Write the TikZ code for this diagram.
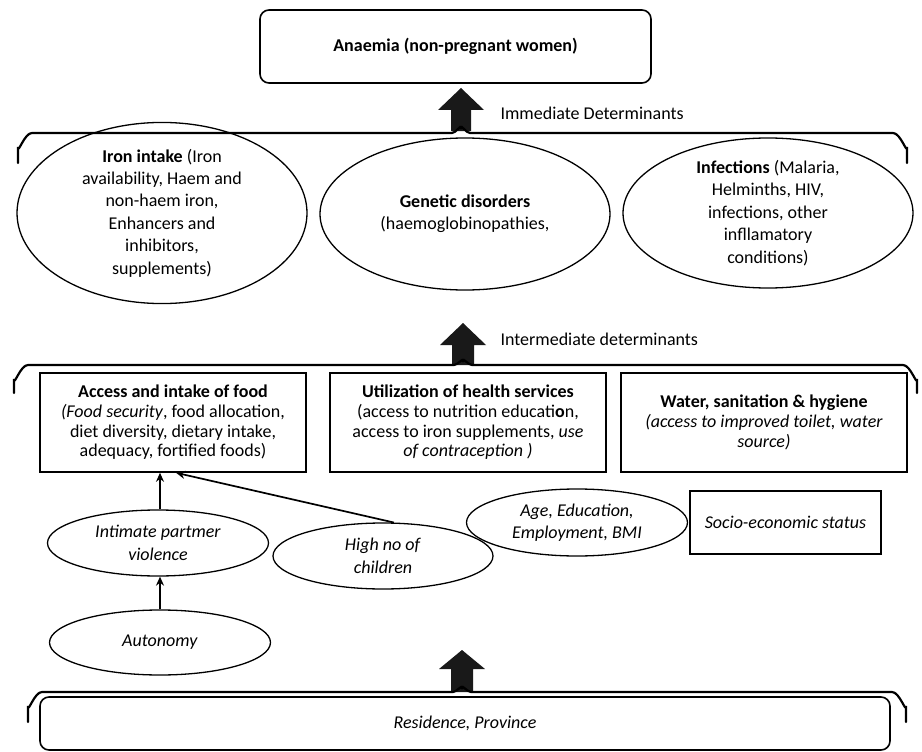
\documentclass[tikz,border=0pt]{standalone}
\usepackage{fontspec}
\setmainfont{Carlito}
\usepackage{tikz}
\usetikzlibrary{shapes,arrows,arrows.meta,chains}
\tikzstyle{arrow} = [line width=1.7pt,->,>={Stealth[length=9pt,width=8pt]}]
\tikzstyle{brace} = [line width=2.2pt,line cap=round]
\tikzstyle{bigarrow} = [fill=black!90]
\tikzstyle{oval} = [ellipse, draw=black, line width=1.3pt, inner sep=0pt, align=center, font=\fontsize{18}{22.4}\selectfont]
\tikzstyle{box} = [rectangle, draw=black, line width=1.6pt, inner sep=0pt, align=center, font=\fontsize{18}{19.6}\selectfont]

\begin{document}
\begin{tikzpicture}[x=1pt, y=-1pt, font=\fontsize{18}{22}\selectfont]
        \useasboundingbox (0,0) rectangle (922,752);

        % outcome
        \node (anaemia) [box, rounded corners=9pt, minimum width=391pt, minimum height=73pt] at (455.5,46.5) {\textbf{Anaemia (non-pregnant women)}};

        % immediate determinants
        \fill[bigarrow, shift={(461,131)}] (-10,0) -- (-10,-21) -- (-23,-21) -- (0,-43) -- (23,-21) -- (10,-21) -- (10,0) -- cycle;
        \node (immt) [anchor=west] at (497,113) {Immediate Determinants};
        \draw[brace] (18,163) -- (18,147) to[out=-90,in=180] (32,133) -- (452,133) to[out=0,in=90] (461,128) to[out=90,in=180] (470,133) -- (893,133) to[out=0,in=-90] (907,147) -- (907,163);

        \node (iron) [oval, minimum width=290pt, minimum height=150pt] at (162,213) {\textbf{Iron intake} (Iron\\availability, Haem and\\non-haem iron,\\Enhancers and\\inhibitors,\\supplements)};
        \node (genetic) [oval, minimum width=290pt, minimum height=152pt] at (465,214) {\textbf{Genetic disorders}\\(haemoglobinopathies,};
        \node (infect) [oval, minimum width=290pt, minimum height=150pt] at (768,213) {\textbf{Infections} (Malaria,\\Helminths, HIV,\\infections, other\\infllamatory\\conditions)};

        % intermediate determinants
        \fill[bigarrow, shift={(463,365)}] (-11,0) -- (-11,-20) -- (-23,-20) -- (0,-42) -- (23,-20) -- (11,-20) -- (11,0) -- cycle;
        \node (intt) [anchor=west] at (497,339) {Intermediate determinants};
        \draw[brace] (14,393) -- (14,379) to[out=-90,in=180] (28,365) -- (454,365) to[out=0,in=90] (463,361) to[out=90,in=180] (472,365) -- (903,365) to[out=0,in=-90] (917,379) -- (917,393);

        \node (food) [box, minimum width=266pt, minimum height=99pt] at (173,422.5) {\textbf{Access and intake of food}\\\textit{(Food security}, food allocation,\\diet diversity, dietary intake,\\adequacy, fortified foods)};
        \node (health) [box, minimum width=276pt, minimum height=99pt] at (468,422.5) {\textbf{Utilization of health services}\\(access to nutrition educati\textbf{o}n,\\access to iron supplements, \textit{use}\\\textit{of contraception )}};
        \node (wash) [box, minimum width=286pt, minimum height=99pt] at (764,422.5) {\textbf{Water, sanitation \& hygiene}\\\textit{(access to improved toilet, water}\\\textit{source)}};

        % underlying factors
        \node (ipv) [oval, minimum width=221pt, minimum height=66pt] at (158,543) {\textit{Intimate partmer}\\\textit{violence}};
        \node (hino) [oval, minimum width=220pt, minimum height=66pt] at (383,556) {\textit{High no of}\\\textit{children}};
        \node (age) [oval, minimum width=221pt, minimum height=67pt] at (577,522.5) {\textit{Age, Education,}\\\textit{Employment, BMI}};
        \node (ses) [box, minimum width=191pt, minimum height=63pt] at (785.5,522.5) {\textit{Socio-economic status}};
        \node (auto) [oval, minimum width=221pt, minimum height=65pt] at (160,642.5) {\textit{Autonomy}};

        \draw[arrow] (auto.north) -- (auto.north |- ipv.south);
        \draw[arrow] (auto.north |- ipv.north) -- (auto.north |- food.south);
        \draw[arrow] (hino.72) -- ([xshift=3pt]food.south);

        % distal determinants
        \fill[bigarrow, shift={(462,692)}] (-11,0) -- (-11,-23) -- (-23,-23) -- (0,-42) -- (23,-23) -- (11,-23) -- (11,0) -- cycle;
        \draw[brace] (28,722) -- (28,706) to[out=-90,in=180] (42,692) -- (453,692) to[out=0,in=90] (462,688) to[out=90,in=180] (471,692) -- (892,692) to[out=0,in=-90] (906,706) -- (906,722);
        \node (resid) [box, rounded corners=9pt, minimum width=850pt, minimum height=53pt] at (465,723.5) {\textit{Residence, Province}};

    \end{tikzpicture}
\end{document}
